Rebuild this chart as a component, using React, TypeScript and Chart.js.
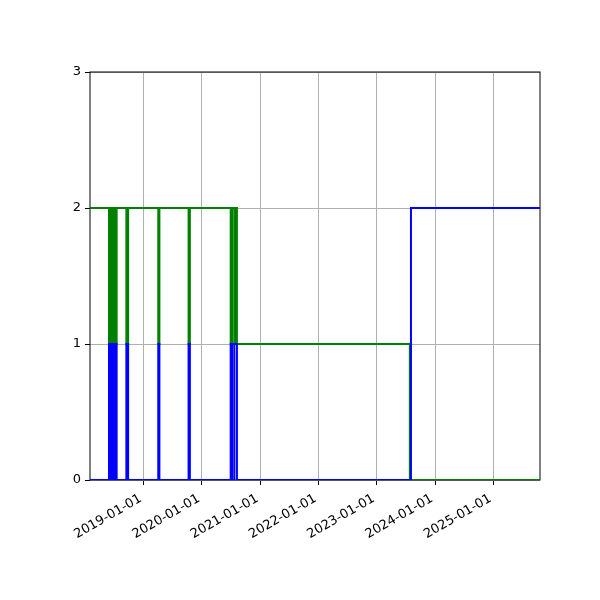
import React, { useEffect, useRef } from 'react';
import { Chart, registerables } from 'chart.js';

Chart.register(...registerables);

// change points: each value holds from its date until the next one
const blueDates = [
  '2018-01-29', '2018-05-28', '2018-06-07', '2018-06-16', '2018-06-26', '2018-07-05', '2018-07-15',
  '2018-09-14', '2018-09-25', '2019-04-02', '2019-04-09', '2019-10-09', '2019-10-17',
  '2020-06-29', '2020-07-08', '2020-07-22', '2020-08-07', '2023-08-03', '2025-10-20',
];
const blueValues = [0, 1, 0, 1, 0, 1, 0, 1, 0, 1, 0, 1, 0, 1, 0, 1, 0, 2, 2];

const greenDates = [
  '2018-01-29', '2018-05-28', '2018-06-07', '2018-06-16', '2018-06-26', '2018-07-05', '2018-07-15',
  '2018-09-14', '2018-09-25', '2019-04-02', '2019-04-09', '2019-10-09', '2019-10-17',
  '2020-06-29', '2020-07-08', '2020-07-22', '2020-07-30', '2020-08-07', '2023-07-27', '2025-10-20',
];
const greenValues = [2, 1, 2, 1, 2, 1, 2, 1, 2, 1, 2, 1, 2, 1, 2, 1, 2, 1, 0, 0];

const xTickLabels = ['2019-01-01', '2020-01-01', '2021-01-01', '2022-01-01', '2023-01-01', '2024-01-01', '2025-01-01'];
const yTicks = [0, 1, 2, 3];

const toPoints = (dates: string[], values: number[]) =>
  dates.map((d, i) => ({ x: Date.parse(d), y: values[i] }));

const boxPlugin = {
  id: 'box',
  beforeDatasetsDraw(chart: any) {
    const { ctx, chartArea } = chart;
    ctx.save();
    ctx.strokeStyle = '#000';
    ctx.lineWidth = 1;
    ctx.strokeRect(chartArea.left, chartArea.top, chartArea.right - chartArea.left, chartArea.bottom - chartArea.top);
    ctx.restore();
  },
};

export default function App() {
  const canvasRef = useRef<HTMLCanvasElement>(null);

  useEffect(() => {
    document.body.style.margin = '0';
    if (!canvasRef.current) return;
    const font = { family: 'DejaVu Sans', size: 13 };
    const chart = new Chart(canvasRef.current, {
      type: 'line',
      data: {
        datasets: [
          {
            data: toPoints(blueDates, blueValues),
            borderColor: '#0000ff',
            borderWidth: 2,
            stepped: true,
            pointRadius: 0,
            fill: false,
          },
          {
            data: toPoints(greenDates, greenValues),
            borderColor: '#008000',
            borderWidth: 2,
            stepped: true,
            pointRadius: 0,
            fill: false,
          },
        ],
      },
      options: {
        animation: false,
        responsive: false,
        devicePixelRatio: 1,
        layout: { padding: { left: 0, top: 72, right: 60, bottom: 0 } },
        plugins: { legend: { display: false }, tooltip: { enabled: false } },
        scales: {
          x: {
            type: 'linear',
            min: Date.parse(greenDates[0]),
            max: Date.parse(greenDates[greenDates.length - 1]),
            afterBuildTicks: (scale: any) => {
              scale.ticks = xTickLabels.map((s) => ({ value: Date.parse(s) }));
            },
            afterFit: (scale: any) => {
              scale.height = 120;
            },
            grid: { color: '#b0b0b0', lineWidth: 1, tickLength: 5, tickColor: '#000' },
            border: { display: false },
            ticks: {
              autoSkip: false,
              minRotation: 30,
              maxRotation: 30,
              color: '#000',
              font,
              padding: 6,
              labelOffset: -3,
              callback: (_v: any, i: number) => xTickLabels[i],
            },
          },
          y: {
            min: 0,
            max: 3,
            afterBuildTicks: (scale: any) => {
              scale.ticks = yTicks.map((v) => ({ value: v }));
            },
            afterFit: (scale: any) => {
              scale.width = 90;
            },
            grid: { color: '#b0b0b0', lineWidth: 1, tickLength: 5, tickColor: '#000' },
            border: { display: false },
            ticks: { color: '#000', font, padding: 4 },
          },
        },
      },
      plugins: [boxPlugin],
    });
    return () => chart.destroy();
  }, []);

  return (
    <div style={{ width: 600, height: 600, background: '#fff' }}>
      <canvas ref={canvasRef} width={600} height={600} />
    </div>
  );
}
